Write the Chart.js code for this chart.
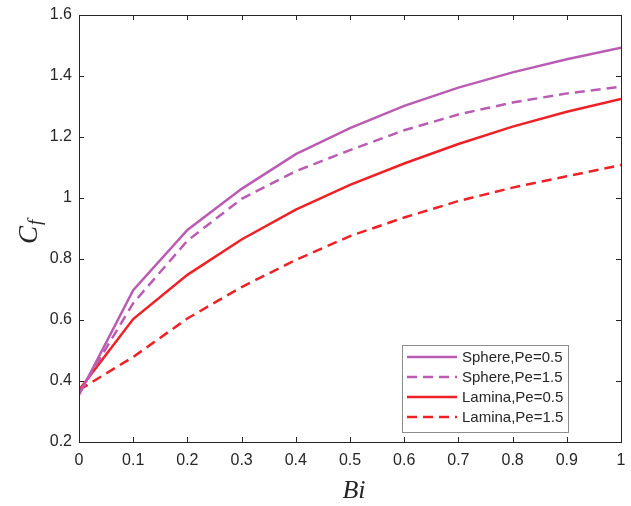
<!DOCTYPE html>
<html>
<head>
<meta charset="utf-8">
<script src="https://cdn.jsdelivr.net/npm/chart.js@4.4.0/dist/chart.umd.min.js"></script>
<style>
  html, body { margin: 0; padding: 0; background: #fff; }
  #wrap { width: 631px; height: 506px; position: relative; }
</style>
</head>
<body>
<div id="wrap"><canvas id="cfChart" width="631" height="506"></canvas></div>
<script>
// Biot number samples along the x axis
const biValues = [0, 0.1, 0.2, 0.3, 0.4, 0.5, 0.6, 0.7, 0.8, 0.9, 1.0];

// C_f for each geometry / Peclet number
const spherePe05 = [0.354, 0.698, 0.895, 1.030, 1.144, 1.229, 1.302, 1.362, 1.412, 1.455, 1.493];
const spherePe15 = [0.360, 0.655, 0.860, 0.997, 1.088, 1.157, 1.222, 1.274, 1.313, 1.343, 1.365];
const laminaPe05 = [0.370, 0.603, 0.748, 0.864, 0.962, 1.043, 1.113, 1.177, 1.234, 1.283, 1.325];
const laminaPe15 = [0.370, 0.479, 0.605, 0.708, 0.797, 0.875, 0.936, 0.990, 1.034, 1.071, 1.108];

const seriesLabels = ['Sphere,Pe=0.5', 'Sphere,Pe=1.5', 'Lamina,Pe=0.5', 'Lamina,Pe=1.5'];

const xTicks = [0, 0.1, 0.2, 0.3, 0.4, 0.5, 0.6, 0.7, 0.8, 0.9, 1];
const yTicks = [0.2, 0.4, 0.6, 0.8, 1, 1.2, 1.4, 1.6];

const PURPLE = '#BB5CB3';
const RED = '#EE2226';
const AXIS = '#262626';
const DASH = [10, 6];

const toPoints = ys => biValues.map((x, i) => ({ x: x, y: ys[i] }));

// Inward ticks on all four sides plus the box, MATLAB style
const boxTicks = {
  id: 'boxTicks',
  afterDraw(chart) {
    const { ctx, chartArea: a, scales } = chart;
    const len = 5;
    ctx.save();
    ctx.strokeStyle = AXIS;
    ctx.lineWidth = 1;
    ctx.beginPath();
    xTicks.forEach(v => {
      const px = Math.round(scales.x.getPixelForValue(v)) + 0.5;
      ctx.moveTo(px, a.bottom); ctx.lineTo(px, a.bottom - len);
      ctx.moveTo(px, a.top); ctx.lineTo(px, a.top + len);
    });
    yTicks.forEach(v => {
      const py = Math.round(scales.y.getPixelForValue(v)) + 0.5;
      ctx.moveTo(a.left, py); ctx.lineTo(a.left + len, py);
      ctx.moveTo(a.right, py); ctx.lineTo(a.right - len, py);
    });
    ctx.stroke();
    ctx.strokeRect(Math.round(a.left) + 0.5, Math.round(a.top) + 0.5,
      Math.round(a.right - a.left), Math.round(a.bottom - a.top));
    ctx.restore();
  }
};

// Axis titles: Bi below, C_f rotated on the left
const axisTitles = {
  id: 'axisTitles',
  afterDraw(chart) {
    const { ctx } = chart;
    ctx.save();
    ctx.fillStyle = AXIS;
    ctx.font = 'italic 26px "Liberation Serif", "DejaVu Serif", serif';
    ctx.textAlign = 'center';
    ctx.textBaseline = 'alphabetic';
    ctx.fillText('Bi', 354, 498);

    ctx.translate(37, 244);
    ctx.rotate(-Math.PI / 2);
    ctx.textAlign = 'left';
    ctx.font = 'italic 27px "Liberation Serif", "DejaVu Serif", serif';
    ctx.fillText('C', 0, 0);
    const cw = ctx.measureText('C').width;
    ctx.font = 'italic 19px "Liberation Serif", "DejaVu Serif", serif';
    ctx.fillText('f', cw + 1, 4);
    ctx.restore();
  }
};

// Boxed legend inside the lower right of the plot
const boxLegend = {
  id: 'boxLegend',
  afterDraw(chart) {
    const { ctx } = chart;
    const left = 402.5, top = 345.5, w = 166, h = 87;
    ctx.save();
    ctx.fillStyle = '#fff';
    ctx.fillRect(left, top, w, h);
    ctx.strokeStyle = '#8c8c8c';
    ctx.lineWidth = 1;
    ctx.strokeRect(left, top, w, h);
    ctx.font = '15px "Liberation Sans", Arial, sans-serif';
    ctx.textBaseline = 'middle';
    chart.data.datasets.forEach((ds, i) => {
      const y = 357 + i * 20;
      ctx.strokeStyle = ds.borderColor;
      ctx.lineWidth = ds.borderWidth;
      ctx.setLineDash(ds.borderDash || []);
      ctx.beginPath();
      ctx.moveTo(407, y);
      ctx.lineTo(457, y);
      ctx.stroke();
      ctx.setLineDash([]);
      ctx.fillStyle = AXIS;
      ctx.fillText(ds.label, 462, y + 1);
    });
    ctx.restore();
  }
};

const fmt = v => String(+Number(v).toFixed(1));

new Chart(document.getElementById('cfChart').getContext('2d'), {
  type: 'line',
  data: {
    datasets: [
      { label: seriesLabels[0], data: toPoints(spherePe05), borderColor: PURPLE, borderWidth: 2.5 },
      { label: seriesLabels[1], data: toPoints(spherePe15), borderColor: PURPLE, borderWidth: 2.5, borderDash: DASH },
      { label: seriesLabels[2], data: toPoints(laminaPe05), borderColor: RED, borderWidth: 2.5 },
      { label: seriesLabels[3], data: toPoints(laminaPe15), borderColor: RED, borderWidth: 2.5, borderDash: DASH }
    ]
  },
  options: {
    responsive: false,
    animation: false,
    devicePixelRatio: 1,
    layout: { padding: { top: 15, right: 10, left: 0, bottom: 0 } },
    elements: { point: { radius: 0 }, line: { tension: 0 } },
    plugins: { legend: { display: false }, tooltip: { enabled: false } },
    scales: {
      x: {
        type: 'linear',
        min: 0,
        max: 1,
        afterFit: s => {
          s.height = 64;
          s.paddingLeft = 0;
          s.paddingRight = 0;
        },
        afterBuildTicks: s => { s.ticks = xTicks.map(v => ({ value: v })); },
        grid: { display: false, drawTicks: false },
        border: { display: false },
        ticks: {
          padding: 9,
          color: AXIS,
          font: { family: '"Liberation Sans", Arial, sans-serif', size: 16 },
          maxRotation: 0,
          callback: fmt
        }
      },
      y: {
        type: 'linear',
        min: 0.2,
        max: 1.6,
        afterFit: s => {
          s.width = 79;
          s.paddingTop = 0;
          s.paddingBottom = 0;
        },
        afterBuildTicks: s => { s.ticks = yTicks.map(v => ({ value: v })); },
        grid: { display: false, drawTicks: false },
        border: { display: false },
        ticks: {
          padding: 7,
          color: AXIS,
          font: { family: '"Liberation Sans", Arial, sans-serif', size: 16 },
          callback: fmt
        }
      }
    }
  },
  plugins: [boxTicks, axisTitles, boxLegend]
});
</script>
</body>
</html>
